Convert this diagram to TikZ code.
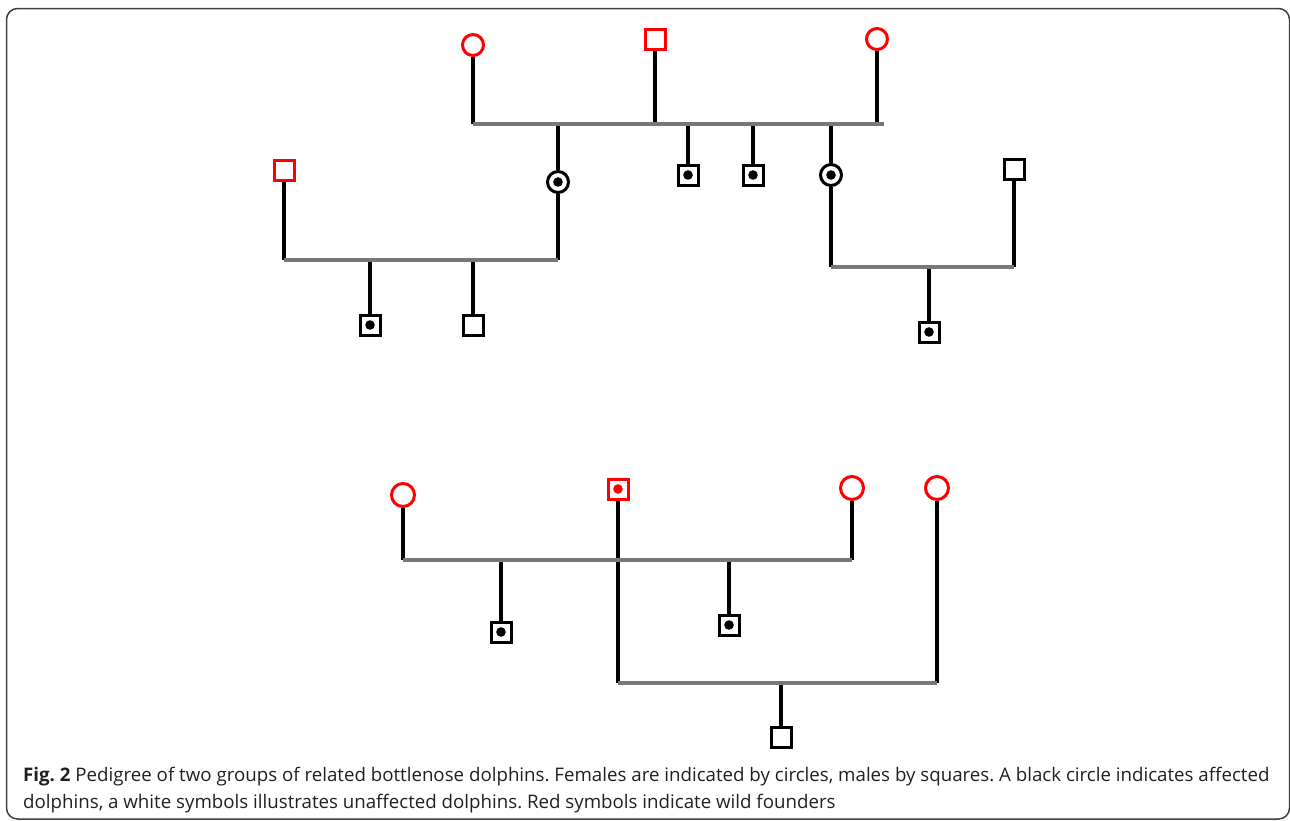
\documentclass[tikz,border=0pt]{standalone}
\usepackage{fontspec}
\setmainfont{Open Sans}
\definecolor{matingline}{RGB}{120,120,120}
\definecolor{captiontext}{RGB}{35,31,32}
\tikzset{
  female/.style={draw, circle, line width=3pt, minimum size=21pt, inner sep=0pt},
  male/.style={draw, rectangle, line width=3pt, minimum size=20pt, inner sep=0pt},
  founder/.style={red},
  affected/.style={path picture={\fill (path picture bounding box.center) circle (4.8pt);}},
  descent/.style={line width=3.4pt, black},
  mating/.style={line width=3.4pt, matingline},
}
\begin{document}
\begin{tikzpicture}[x=1pt,y=-1pt]
\useasboundingbox (0,0) rectangle (1290,820);
\draw[line width=1.5pt, black!75, rounded corners=11pt] (6.5,8.5) rectangle (1289.5,819);
% first group
\node[female, founder] (1) at (473,45) {};
\node[male, founder] (2) at (655,39) {};
\node[female, founder] (3) at (877,39) {};
\node[female, affected] (4) at (558,182) {};
\node[male, affected] (5) at (688,175) {};
\node[male, affected] (6) at (753,175) {};
\node[female, affected] (7) at (831,175) {};
\node[male, founder] (8) at (284,170) {};
\node[male, affected] (9) at (370,325) {};
\node[male] (10) at (473,325) {};
\node[male] (11) at (1014,169) {};
\node[male, affected] (12) at (929,332) {};
\coordinate (a) at (473,124);
\coordinate (b) at (884,124);
\coordinate (c) at (284,260);
\coordinate (d) at (558,260);
\coordinate (e) at (831,267);
\coordinate (f) at (1014,267);
\draw[descent] (1) -- (a);
\draw[descent] (2) -- (2 |- a);
\draw[descent] (3) -- (3 |- a);
\draw[descent] (4 |- a) -- (4);
\draw[descent] (5 |- a) -- (5);
\draw[descent] (6 |- a) -- (6);
\draw[descent] (7 |- a) -- (7);
\draw[descent] (8) -- (c);
\draw[descent] (4) -- (d);
\draw[descent] (9 |- c) -- (9);
\draw[descent] (10 |- c) -- (10);
\draw[descent] (7) -- (e);
\draw[descent] (11) -- (f);
\draw[descent] (12 |- e) -- (12);
\draw[mating] (a) -- (b);
\draw[mating] (c) -- (d);
\draw[mating] (e) -- (f);
% second group
\node[female, founder, minimum height=23pt] (13) at (403,495) {};
\node[male, founder, affected] (14) at (618,489) {};
\node[female, founder, minimum height=23pt] (15) at (852,488) {};
\node[female, founder, minimum height=23pt] (16) at (937,488) {};
\node[male, affected] (17) at (501,632) {};
\node[male, affected] (18) at (729,625) {};
\node[male] (19) at (781,737) {};
\coordinate (g) at (403,560);
\coordinate (h) at (852,560);
\coordinate (i) at (618,683);
\coordinate (j) at (937,683);
\draw[descent] (13) -- (g);
\draw[descent] (15) -- (h);
\draw[descent] (14) -- (i);
\draw[descent] (16) -- (j);
\draw[descent] (17 |- g) -- (17);
\draw[descent] (18 |- g) -- (18);
\draw[descent] (19 |- i) -- (19);
\draw[mating] (g) -- (h);
\draw[mating] (i) -- (j);
% caption
\node[anchor=base west, inner sep=0pt, align=left, font=\fontsize{18.7pt}{27pt}\selectfont\frenchspacing, text=captiontext] (cap) at (23,808)
  {\textbf{Fig. 2} Pedigree of two groups of related bottlenose dolphins. Females are indicated by circles, males by squares. A black circle indicates affected\\
   dolphins, a white symbols illustrates unaffected dolphins. Red symbols indicate wild founders};
\end{tikzpicture}
\end{document}
